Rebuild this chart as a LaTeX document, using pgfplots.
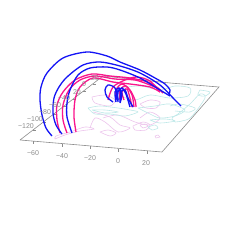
\documentclass[border=0pt]{standalone}
\usepackage{fontspec}
\setmainfont{Liberation Sans}
\usepackage{pgfplots}
\pgfplotsset{compat=1.18}
\definecolor{blu}{RGB}{20,20,245}
\definecolor{pnk}{RGB}{250,20,140}
\definecolor{lp}{RGB}{236,196,236}
\definecolor{lc}{RGB}{190,232,232}
\definecolor{gr}{RGB}{140,140,140}
\begin{document}
\begin{tikzpicture}
\useasboundingbox (0,0) rectangle (240pt,252pt);
\begin{axis}[at={(0,0)},anchor=south west,scale only axis,width=240pt,height=252pt,xmin=0,xmax=240,ymin=0,ymax=252,y dir=reverse,axis lines=none,clip=false,
 every axis plot/.append style={no markers}]
% box
\addplot[gr,line width=.6pt] coordinates {(20,140)(162,152)(219,87)(170,83)(103,76)(20,140)};
\addplot[gr,line width=.5pt] coordinates {(33,141)(33,144)}; \addplot[gr,line width=.5pt] coordinates {(62,144)(62,147)};
\addplot[gr,line width=.5pt] coordinates {(90,146)(90,149)}; \addplot[gr,line width=.5pt] coordinates {(118,149)(118,152)};
\addplot[gr,line width=.5pt] coordinates {(147,151)(147,154)};
\addplot[gr,line width=.5pt] coordinates {(33,130)(36,130)}; \addplot[gr,line width=.5pt] coordinates {(43,122)(46,122)};
\addplot[gr,line width=.5pt] coordinates {(53,114)(56,114)}; \addplot[gr,line width=.5pt] coordinates {(63,106)(66,106)};
\addplot[gr,line width=.5pt] coordinates {(73,99)(76,99)}; \addplot[gr,line width=.5pt] coordinates {(83,91)(86,91)};
\addplot[gr,line width=.5pt] coordinates {(93,84)(96,84)};
% pink contours
\addplot[lp,line width=.6pt,smooth] coordinates {(55,139)(65,135)(80,131)(94,129)(85,127)(70,132)(56,136)(55,139)};
\addplot[lp,line width=.6pt,smooth] coordinates {(92,97)(105,95)(115,100)(110,106)(95,103)(92,97)};
\addplot[lp,line width=.6pt,smooth] coordinates {(93,112)(110,117)(120,125)(130,128)(118,132)(105,122)(95,118)(90,128)};
\addplot[lp,line width=.6pt,smooth] coordinates {(103,118)(118,115)(135,122)(150,125)(160,118)(150,112)(140,118)};
\addplot[lp,line width=.6pt,smooth] coordinates {(133,126)(143,122)(150,125)(146,130)(135,130)(133,126)};
\addplot[lp,line width=.6pt,smooth] coordinates {(140,125)(145,124)(148,126)(143,128)(140,125)};
\addplot[lp,line width=.6pt,smooth] coordinates {(140,104)(150,100)(160,102)(156,108)(146,108)(140,104)};
\addplot[lp,line width=.6pt,smooth] coordinates {(100,132)(110,136)(116,133)(108,130)(100,132)};
\addplot[lp,line width=.6pt] coordinates {(155,136)(158,135)(160,137)(156,138)(155,136)};
% cyan contours
\addplot[lc,line width=.6pt,smooth] coordinates {(88,108)(100,106)(118,108)(130,110)(138,112)(125,116)(110,114)(95,114)(88,108)};
\addplot[lc,line width=.6pt,smooth] coordinates {(92,110)(105,110)(118,112)(105,113)(92,110)};
\addplot[lc,line width=.6pt,smooth] coordinates {(138,108)(155,106)(170,104)(185,110)(175,116)(160,118)(150,114)(138,108)};
\addplot[lc,line width=.6pt,smooth] coordinates {(120,88)(140,86)(160,90)(175,86)(190,88)(188,96)(170,98)(150,95)(135,100)(120,96)};
\addplot[lc,line width=.6pt,smooth] coordinates {(175,122)(190,118)(205,98)(200,94)(190,104)(178,114)(172,118)(175,122)};
\addplot[lc,line width=.6pt,smooth] coordinates {(148,127)(155,125)(158,128)(152,130)(148,127)};
\addplot[lc,line width=.6pt,smooth] coordinates {(200,90)(210,92)(205,96)(198,95)(200,90)};
\addplot[lc,line width=.6pt,smooth] coordinates {(170,106)(180,104)(195,108)(190,112)(175,111)};
\addplot[lc,line width=.6pt,smooth] coordinates {(150,120)(165,119)(175,121)(160,123)(150,120)};
% pink loops
\addplot[pnk,line width=1.3pt,smooth] coordinates {(60,133)(57,120)(57,105)(63,92)(75,80)(92,74)(110,76)(130,78)(148,82)(158,88)(163,93)};
\addplot[pnk,line width=1.3pt,smooth] coordinates {(67,133)(63,120)(63,105)(69,90)(80,80)(95,76)(115,79)(135,80)(150,85)(159,89)(163,93)};
\addplot[pnk,line width=1.3pt,smooth] coordinates {(76,132)(74,117)(75,100)(80,87)(93,78)(113,82)(130,84)(150,87)(160,92)};
\addplot[pnk,line width=1.3pt,smooth] coordinates {(108,100)(113,87)(125,80)(137,77)(150,81)(160,92)};
% inner
\addplot[pnk,line width=1.3pt,smooth] coordinates {(116,100)(116,90)(122,84)(130,90)(135,100)(136,107)};
\addplot[pnk,line width=1.3pt,smooth] coordinates {(120,100)(120,90)(126,86)(132,95)(134,107)};
\addplot[pnk,line width=1.3pt,smooth] coordinates {(124,100)(122,92)(127,89)(130,98)(132,107)};
% blue loops
\addplot[blu,line width=1.3pt,smooth] coordinates {(52,136)(46,128)(42,115)(40,100)(41,87)(47,73)(63,58)(87,52)(107,56)(120,62)(140,70)(155,78)(165,84)(170,90)(169,94)};
\addplot[blu,line width=1.3pt,smooth] coordinates {(62,134)(56,125)(53,113)(54,98)(59,87)(67,77)(83,65)(100,62)(120,66)(140,73)(160,85)(175,100)(181,106)};
\addplot[blu,line width=1.3pt,smooth] coordinates {(72,133)(67,117)(67,103)(70,90)(78,75)(90,68)(107,67)(120,70)(140,78)(160,90)(170,96)};
\addplot[blu,line width=1.3pt,smooth] coordinates {(113,102)(107,97)(105,90)(108,85)(115,88)(118,100)};
\addplot[blu,line width=1.4pt,smooth] coordinates {(116,102)(115,92)(119,88)(122,94)(120,103)};
\addplot[blu,line width=1.4pt,smooth] coordinates {(118,102)(118,92)(122,88)(126,94)(130,107)};
\addplot[blu,line width=1.4pt,smooth] coordinates {(120,102)(121,92)(125,90)(128,98)(133,107)};
\addplot[blu,line width=1.4pt,smooth] coordinates {(117,100)(117,92)(120,90)(121,100)};
% labels
\node[text=gr,font=\fontsize{7}{8}\selectfont] at (axis cs:33,153) {−60};
\node[text=gr,font=\fontsize{7}{8}\selectfont] at (axis cs:62,156) {−40};
\node[text=gr,font=\fontsize{7}{8}\selectfont] at (axis cs:90,158) {−20};
\node[text=gr,font=\fontsize{7}{8}\selectfont] at (axis cs:118,161) {0};
\node[text=gr,font=\fontsize{7}{8}\selectfont] at (axis cs:146,163) {20};
\node[text=gr,font=\fontsize{7}{8}\selectfont] at (axis cs:26,126) {−120};
\node[text=gr,font=\fontsize{7}{8}\selectfont] at (axis cs:35,119) {−100};
\node[text=gr,font=\fontsize{7}{8}\selectfont] at (axis cs:45,112) {−80};
\node[text=gr,font=\fontsize{7}{8}\selectfont] at (axis cs:55,105) {−60};
\node[text=gr,font=\fontsize{7}{8}\selectfont] at (axis cs:64,98) {−40};
\node[text=gr,font=\fontsize{7}{8}\selectfont] at (axis cs:77,92) {20};
\node[text=gr,font=\fontsize{7}{8}\selectfont] at (axis cs:84,84) {0};
\node[text=gr,font=\fontsize{7}{8}\selectfont] at (axis cs:95,78) {20};
\end{axis}
\end{tikzpicture}
\end{document}
